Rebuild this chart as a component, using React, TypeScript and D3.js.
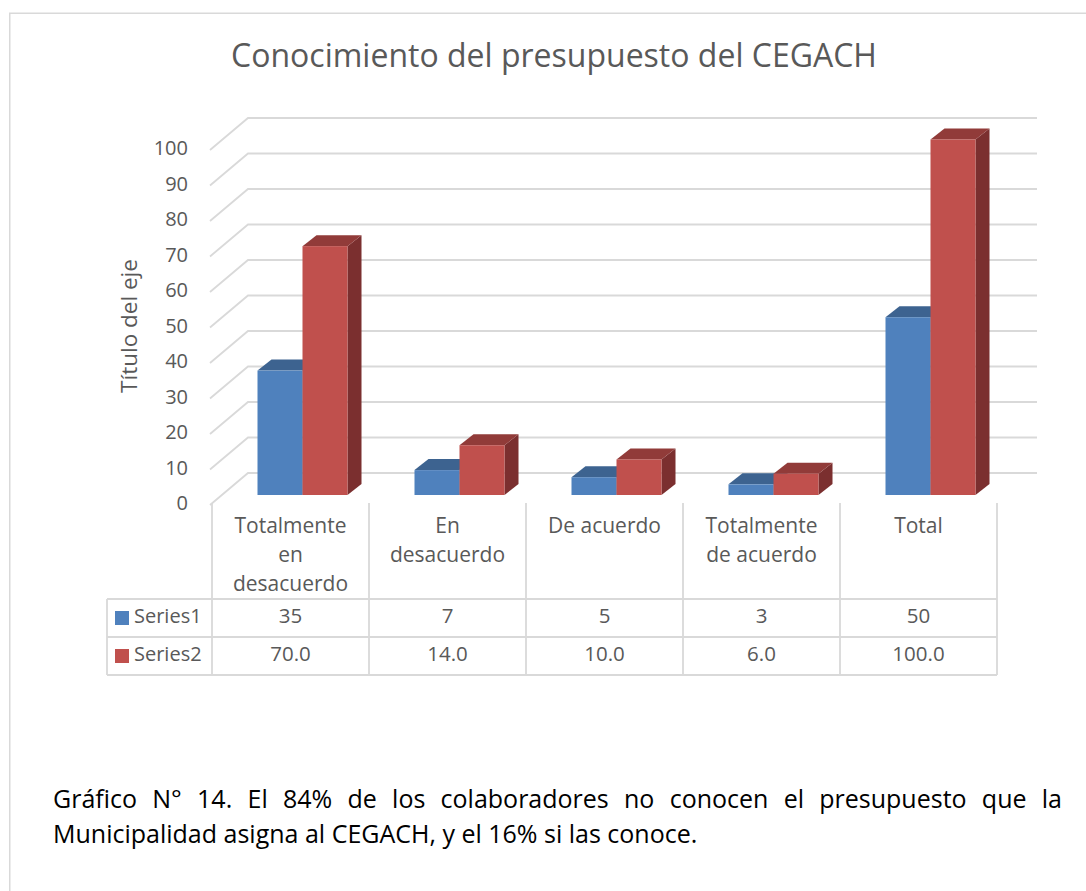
import React, { useEffect, useRef, useState } from "react";
import * as d3 from "d3";

const categories = ["Totalmente en desacuerdo", "En desacuerdo", "De acuerdo", "Totalmente de acuerdo", "Total"];
const categoryLines = [["Totalmente", "en", "desacuerdo"], ["En", "desacuerdo"], ["De acuerdo"], ["Totalmente", "de acuerdo"], ["Total"]];
const seriesNames = ["Series1", "Series2"];
const series1 = [35, 7, 5, 3, 50];
const series2 = [70, 14, 10, 6, 100];
const series1Labels = ["35", "7", "5", "3", "50"];
const series2Labels = ["70.0", "14.0", "10.0", "6.0", "100.0"];
const yTicks = [0, 10, 20, 30, 40, 50, 60, 70, 80, 90, 100];
const captionLine1 = "Gráfico N° 14. El 84% de los colaboradores no conocen el presupuesto que la";
const captionLine2 = "Municipalidad asigna al CEGACH, y el 16% si las conoce.";

const FONT = "'Open Sans', 'DejaVu Sans', sans-serif";
const TXT = "#595959";
const GRID = "#d9d9d9";
const colors = [
  { front: "#4f81bd", top: "#3d6390", side: "#385d8a" },
  { front: "#c0504d", top: "#913b39", side: "#7b2f2f" },
];

export default function App() {
  const capRef = useRef<SVGTextElement>(null);
  const [wordSpacing, setWordSpacing] = useState(0);
  useEffect(() => {
    const el = capRef.current;
    if (!el) return;
    const len = el.getComputedTextLength();
    const gaps = captionLine1.split(" ").length - 1;
    setWordSpacing(Math.max(0, (1009 - len) / gaps));
  }, []);

  const x = d3.scaleBand<string>().domain(categories).range([212, 997]).paddingInner(0).paddingOuter(0);
  const yFront = d3.scaleLinear().domain([0, 100]).range([495, 139.5]);
  const yBack = d3.scaleLinear().domain([0, 100]).range([473, 118]);
  const yEdge = d3.scaleLinear().domain([0, 100]).range([505, 150]);
  const edgeX = 210;
  const backX = 248;
  const backRight = 1037;
  const barW = 45;
  const shift = 12;
  const ddx = 14;
  const ddy = 11;
  const data = [series1, series2];

  const bars: React.ReactNode[] = [];
  categories.forEach((c, i) => {
    const cx = (x(c) as number) + x.bandwidth() / 2 + shift;
    data.forEach((s, si) => {
      const x0 = cx - barW + si * barW;
      const x1 = x0 + barW;
      const yt = yFront(s[i]);
      const yb = yFront(0);
      const col = colors[si];
      bars.push(
        <g key={`b${i}-${si}`}>
          <polygon points={`${x1},${yt} ${x1 + ddx},${yt - ddy} ${x1 + ddx},${yb - ddy} ${x1},${yb}`} fill={col.side} />
          <polygon points={`${x0},${yt} ${x0 + ddx},${yt - ddy} ${x1 + ddx},${yt - ddy} ${x1},${yt}`} fill={col.top} />
          <rect x={x0} y={yt} width={barW} height={yb - yt} fill={col.front} />
        </g>
      );
    });
  });

  const rowTop = 503;
  const rowA = 599;
  const rowB = 637;
  const rowC = 675;
  const colEdges = categories.map((c) => x(c) as number).concat([997]);

  return (
    <svg width={1086} height={891} style={{ position: "absolute", left: 0, top: 0, background: "#fff" }} fontFamily={FONT}>
      <rect x={0} y={0} width={1086} height={891} fill="#fff" />
      <path d="M9.75,900 L9.75,13.25 L1100,13.25" fill="none" stroke={GRID} strokeWidth={1.5} />
      <text x={554} y={58} textAnchor="middle" dominantBaseline="middle" fontSize={32} fill={TXT}>
        Conocimiento del presupuesto del CEGACH
      </text>
      {yTicks.map((t) => (
        <polyline
          key={`g${t}`}
          points={`${edgeX},${yEdge(t)} ${backX},${yBack(t)} ${backRight},${yBack(t)}`}
          fill="none"
          stroke={GRID}
          strokeWidth={1.8}
        />
      ))}
      {yTicks.map((t) => (
        <text key={`l${t}`} x={188} y={yEdge(t)} textAnchor="end" dominantBaseline="middle" fontSize={20} fill={TXT}>
          {t}
        </text>
      ))}
      <text transform={`translate(131,326) rotate(-90)`} textAnchor="middle" dominantBaseline="middle" fontSize={22.5} fill={TXT}>
        Título del eje
      </text>
      {bars}
      <g stroke={GRID} strokeWidth={1.8} fill="none">
        {colEdges.map((cx, i) => (
          <line key={`v${i}`} x1={cx} x2={cx} y1={rowTop} y2={rowC} />
        ))}
        <line x1={107} x2={107} y1={rowA} y2={rowC} />
        {[rowA, rowB, rowC].map((ry) => (
          <line key={`h${ry}`} x1={107} x2={997} y1={ry} y2={ry} />
        ))}
      </g>
      {categories.map((c, i) => {
        const cx = (x(c) as number) + x.bandwidth() / 2;
        return categoryLines[i].map((ln, li) => (
          <text key={`c${i}-${li}`} x={cx} y={527 + li * 29} textAnchor="middle" dominantBaseline="middle" fontSize={21} fill={TXT}>
            {ln}
          </text>
        ));
      })}
      {[series1Labels, series2Labels].map((labels, si) =>
        labels.map((lb, i) => (
          <text
            key={`v${si}-${i}`}
            x={(x(categories[i]) as number) + x.bandwidth() / 2}
            y={si === 0 ? 618 : 656}
            textAnchor="middle"
            dominantBaseline="middle"
            fontSize={20.5}
            fill={TXT}
          >
            {lb}
          </text>
        ))
      )}
      {seriesNames.map((n, si) => (
        <g key={`lg${si}`}>
          <rect x={115} y={(si === 0 ? 618 : 656) - 7} width={14} height={14} fill={colors[si].front} />
          <text x={134} y={si === 0 ? 618 : 656} dominantBaseline="middle" fontSize={20} fill={TXT}>
            {n}
          </text>
        </g>
      ))}
      <text ref={capRef} x={53} y={808} fontSize={25} fill="#000" style={{ wordSpacing: `${wordSpacing}px` }}>
        {captionLine1}
      </text>
      <text x={53} y={843} fontSize={25} fill="#000">
        {captionLine2}
      </text>
    </svg>
  );
}
